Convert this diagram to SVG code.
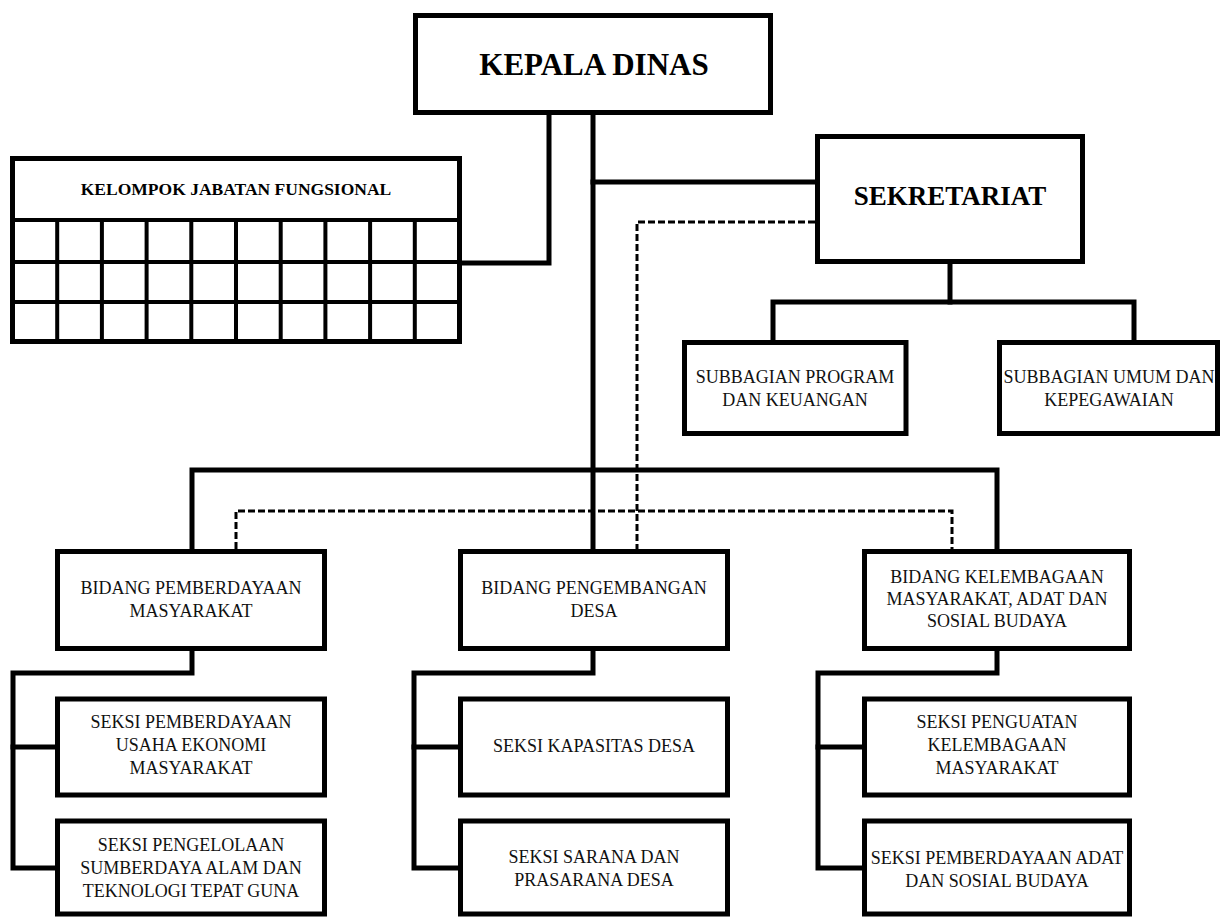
<svg xmlns="http://www.w3.org/2000/svg" width="1225" height="918" viewBox="0 0 1225 918">
  <style>
    .box { fill: #ffffff; stroke: #000000; stroke-width: 5; }
    .grid { fill: none; stroke: #000000; stroke-width: 4; }
    .conn { fill: none; stroke: #000000; stroke-width: 5; stroke-linejoin: miter; stroke-linecap: square; }
    .dash { fill: none; stroke: #000000; stroke-width: 3; stroke-dasharray: 7 3; }
    .t { font-family: "Liberation Serif", "Times New Roman", serif; font-size: 18px; fill: #111111; text-anchor: middle; }
    .tb { font-family: "Liberation Serif", "Times New Roman", serif; font-weight: bold; fill: #000000; text-anchor: middle; }
  </style>
  <rect x="0" y="0" width="1225" height="918" fill="#ffffff"/>

  <g id="connectors">
    <path class="conn" d="M549,115 V263 H462"/>
    <path class="conn" d="M593,115 V549"/>
    <path class="conn" d="M593,182 H815"/>
    <path class="conn" d="M192,549 V470 H997 V549"/>
    <path class="conn" d="M950,264 V302"/>
    <path class="conn" d="M773,340 V302 H1134 V340"/>
    <path class="conn" d="M192,651 V673 H13 V868 H55"/>
    <path class="conn" d="M13,747 H55"/>
    <path class="conn" d="M593,651 V673 H414 V868 H458"/>
    <path class="conn" d="M414,747 H458"/>
    <path class="conn" d="M997,651 V673 H818 V868 H862"/>
    <path class="conn" d="M818,747 H862"/>
    <path class="dash" d="M815,222 H637 V549"/>
    <path class="dash" d="M236,549 V511 H952 V549"/>
  </g>

  <g id="kepala-dinas">
    <rect class="box" x="415.5" y="15.5" width="355" height="97"/>
    <text class="tb" x="594" y="75" font-size="31">KEPALA DINAS</text>
  </g>

  <g id="kelompok-jabatan-fungsional">
    <rect class="box" x="12.5" y="158.5" width="447" height="183"/>
    <path class="grid" d="M12.5,220 H459.5 M12.5,262 H459.5 M12.5,302 H459.5"/>
    <path class="grid" d="M57.2,220 V341.5 M101.9,220 V341.5 M146.6,220 V341.5 M191.3,220 V341.5 M236,220 V341.5 M280.7,220 V341.5 M325.4,220 V341.5 M370.1,220 V341.5 M414.8,220 V341.5"/>
    <text class="tb" x="236" y="195" font-size="17.5">KELOMPOK JABATAN FUNGSIONAL</text>
  </g>

  <g id="sekretariat">
    <rect class="box" x="817.5" y="136.5" width="265" height="125"/>
    <text class="tb" x="950" y="205" font-size="27">SEKRETARIAT</text>
  </g>

  <g id="subbagian-program">
    <rect class="box" x="684.5" y="342.5" width="221.5" height="91"/>
    <text class="t" x="795" y="383">SUBBAGIAN PROGRAM</text>
    <text class="t" x="795" y="406">DAN KEUANGAN</text>
  </g>

  <g id="subbagian-umum">
    <rect class="box" x="999.5" y="342.5" width="218" height="91"/>
    <text class="t" x="1109" y="383">SUBBAGIAN UMUM DAN</text>
    <text class="t" x="1109" y="406">KEPEGAWAIAN</text>
  </g>

  <g id="bidang-pemberdayaan">
    <rect class="box" x="57.5" y="551.5" width="267" height="97"/>
    <text class="t" x="191" y="594">BIDANG PEMBERDAYAAN</text>
    <text class="t" x="191" y="617">MASYARAKAT</text>
  </g>

  <g id="bidang-pengembangan">
    <rect class="box" x="460.5" y="551.5" width="267" height="97"/>
    <text class="t" x="594" y="594">BIDANG PENGEMBANGAN</text>
    <text class="t" x="594" y="617">DESA</text>
  </g>

  <g id="bidang-kelembagaan">
    <rect class="box" x="864.5" y="551.5" width="265" height="97"/>
    <text class="t" x="997" y="583">BIDANG KELEMBAGAAN</text>
    <text class="t" x="997" y="605">MASYARAKAT, ADAT DAN</text>
    <text class="t" x="997" y="627">SOSIAL BUDAYA</text>
  </g>

  <g id="seksi-pemberdayaan-usaha">
    <rect class="box" x="57.5" y="699" width="267" height="96"/>
    <text class="t" x="191" y="728">SEKSI PEMBERDAYAAN</text>
    <text class="t" x="191" y="751">USAHA EKONOMI</text>
    <text class="t" x="191" y="774">MASYARAKAT</text>
  </g>

  <g id="seksi-pengelolaan">
    <rect class="box" x="57.5" y="821" width="267" height="93"/>
    <text class="t" x="191" y="851">SEKSI PENGELOLAAN</text>
    <text class="t" x="191" y="874">SUMBERDAYA ALAM DAN</text>
    <text class="t" x="191" y="897">TEKNOLOGI TEPAT GUNA</text>
  </g>

  <g id="seksi-kapasitas">
    <rect class="box" x="460.5" y="699" width="267" height="96"/>
    <text class="t" x="594" y="752">SEKSI KAPASITAS DESA</text>
  </g>

  <g id="seksi-sarana">
    <rect class="box" x="460.5" y="821" width="267" height="93"/>
    <text class="t" x="594" y="863">SEKSI SARANA DAN</text>
    <text class="t" x="594" y="886">PRASARANA DESA</text>
  </g>

  <g id="seksi-penguatan">
    <rect class="box" x="864.5" y="699" width="265" height="96"/>
    <text class="t" x="997" y="728">SEKSI PENGUATAN</text>
    <text class="t" x="997" y="751">KELEMBAGAAN</text>
    <text class="t" x="997" y="774">MASYARAKAT</text>
  </g>

  <g id="seksi-pemberdayaan-adat">
    <rect class="box" x="864.5" y="821" width="265" height="93"/>
    <text class="t" x="997" y="864">SEKSI PEMBERDAYAAN ADAT</text>
    <text class="t" x="997" y="887">DAN SOSIAL BUDAYA</text>
  </g>
</svg>
